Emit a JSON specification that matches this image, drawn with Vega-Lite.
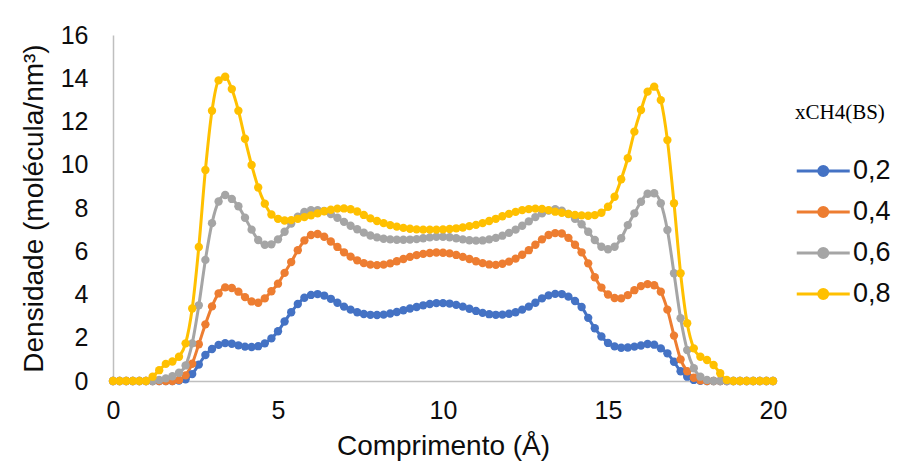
{
"$schema": "https://vega.github.io/schema/vega-lite/v6.json",
"width": 660, "height": 346,
"autosize": "none",
"padding": {"left": 113, "top": 35, "right": 130, "bottom": 80},
"background": "white",
"config": {"view": {"stroke": null}, "font": "Liberation Sans"},
"data": {"values": [
{"x":0,"s":"0,2","y":0},{"x":0.2,"s":"0,2","y":0},{"x":0.4,"s":"0,2","y":0},{"x":0.6,"s":"0,2","y":0},{"x":0.8,"s":"0,2","y":0},{"x":1,"s":"0,2","y":0},{"x":1.2,"s":"0,2","y":0},{"x":1.4,"s":"0,2","y":0},{"x":1.6,"s":"0,2","y":0},{"x":1.8,"s":"0,2","y":0},
{"x":2,"s":"0,2","y":0.02},{"x":2.2,"s":"0,2","y":0.08},{"x":2.4,"s":"0,2","y":0.32},{"x":2.6,"s":"0,2","y":0.76},{"x":2.8,"s":"0,2","y":1.2},{"x":3,"s":"0,2","y":1.48},{"x":3.2,"s":"0,2","y":1.67},{"x":3.4,"s":"0,2","y":1.75},{"x":3.6,"s":"0,2","y":1.72},{"x":3.8,"s":"0,2","y":1.65},
{"x":4,"s":"0,2","y":1.59},{"x":4.2,"s":"0,2","y":1.57},{"x":4.4,"s":"0,2","y":1.61},{"x":4.6,"s":"0,2","y":1.74},{"x":4.8,"s":"0,2","y":1.97},{"x":5,"s":"0,2","y":2.3},{"x":5.2,"s":"0,2","y":2.75},{"x":5.4,"s":"0,2","y":3.18},{"x":5.6,"s":"0,2","y":3.56},{"x":5.8,"s":"0,2","y":3.85},
{"x":6,"s":"0,2","y":3.98},{"x":6.2,"s":"0,2","y":4.02},{"x":6.4,"s":"0,2","y":3.95},{"x":6.6,"s":"0,2","y":3.8},{"x":6.8,"s":"0,2","y":3.62},{"x":7,"s":"0,2","y":3.44},{"x":7.2,"s":"0,2","y":3.3},{"x":7.4,"s":"0,2","y":3.18},{"x":7.6,"s":"0,2","y":3.1},{"x":7.8,"s":"0,2","y":3.06},
{"x":8,"s":"0,2","y":3.05},{"x":8.2,"s":"0,2","y":3.07},{"x":8.4,"s":"0,2","y":3.12},{"x":8.6,"s":"0,2","y":3.19},{"x":8.8,"s":"0,2","y":3.27},{"x":9,"s":"0,2","y":3.35},{"x":9.2,"s":"0,2","y":3.42},{"x":9.4,"s":"0,2","y":3.5},{"x":9.6,"s":"0,2","y":3.56},{"x":9.8,"s":"0,2","y":3.6},
{"x":10,"s":"0,2","y":3.6},{"x":10.2,"s":"0,2","y":3.58},{"x":10.4,"s":"0,2","y":3.52},{"x":10.6,"s":"0,2","y":3.44},{"x":10.8,"s":"0,2","y":3.34},{"x":11,"s":"0,2","y":3.24},{"x":11.2,"s":"0,2","y":3.15},{"x":11.4,"s":"0,2","y":3.09},{"x":11.6,"s":"0,2","y":3.06},{"x":11.8,"s":"0,2","y":3.07},
{"x":12,"s":"0,2","y":3.11},{"x":12.2,"s":"0,2","y":3.18},{"x":12.4,"s":"0,2","y":3.3},{"x":12.6,"s":"0,2","y":3.44},{"x":12.8,"s":"0,2","y":3.62},{"x":13,"s":"0,2","y":3.82},{"x":13.2,"s":"0,2","y":3.96},{"x":13.4,"s":"0,2","y":4.03},{"x":13.6,"s":"0,2","y":4.02},{"x":13.8,"s":"0,2","y":3.9},
{"x":14,"s":"0,2","y":3.7},{"x":14.2,"s":"0,2","y":3.42},{"x":14.4,"s":"0,2","y":2.92},{"x":14.6,"s":"0,2","y":2.44},{"x":14.8,"s":"0,2","y":2.06},{"x":15,"s":"0,2","y":1.76},{"x":15.2,"s":"0,2","y":1.6},{"x":15.4,"s":"0,2","y":1.54},{"x":15.6,"s":"0,2","y":1.55},{"x":15.8,"s":"0,2","y":1.59},
{"x":16,"s":"0,2","y":1.64},{"x":16.2,"s":"0,2","y":1.71},{"x":16.4,"s":"0,2","y":1.68},{"x":16.6,"s":"0,2","y":1.51},{"x":16.8,"s":"0,2","y":1.28},{"x":17,"s":"0,2","y":0.89},{"x":17.2,"s":"0,2","y":0.45},{"x":17.4,"s":"0,2","y":0.2},{"x":17.6,"s":"0,2","y":0.05},{"x":17.8,"s":"0,2","y":0.01},
{"x":18,"s":"0,2","y":0},{"x":18.2,"s":"0,2","y":0},{"x":18.4,"s":"0,2","y":0},{"x":18.6,"s":"0,2","y":0},{"x":18.8,"s":"0,2","y":0},{"x":19,"s":"0,2","y":0},{"x":19.2,"s":"0,2","y":0},{"x":19.4,"s":"0,2","y":0},{"x":19.6,"s":"0,2","y":0},{"x":19.8,"s":"0,2","y":0},{"x":20,"s":"0,2","y":0},

{"x":0,"s":"0,4","y":0},{"x":0.2,"s":"0,4","y":0},{"x":0.4,"s":"0,4","y":0},{"x":0.6,"s":"0,4","y":0},{"x":0.8,"s":"0,4","y":0},{"x":1,"s":"0,4","y":0},{"x":1.2,"s":"0,4","y":0},{"x":1.4,"s":"0,4","y":0},{"x":1.6,"s":"0,4","y":0},{"x":1.8,"s":"0,4","y":0},
{"x":2,"s":"0,4","y":0.05},{"x":2.2,"s":"0,4","y":0.26},{"x":2.4,"s":"0,4","y":0.8},{"x":2.6,"s":"0,4","y":1.7},{"x":2.8,"s":"0,4","y":2.62},{"x":3,"s":"0,4","y":3.45},{"x":3.2,"s":"0,4","y":4.05},{"x":3.4,"s":"0,4","y":4.33},{"x":3.6,"s":"0,4","y":4.3},{"x":3.8,"s":"0,4","y":4.13},
{"x":4,"s":"0,4","y":3.88},{"x":4.2,"s":"0,4","y":3.68},{"x":4.4,"s":"0,4","y":3.62},{"x":4.6,"s":"0,4","y":3.82},{"x":4.8,"s":"0,4","y":4.15},{"x":5,"s":"0,4","y":4.5},{"x":5.2,"s":"0,4","y":5.0},{"x":5.4,"s":"0,4","y":5.5},{"x":5.6,"s":"0,4","y":6.05},{"x":5.8,"s":"0,4","y":6.5},
{"x":6,"s":"0,4","y":6.75},{"x":6.2,"s":"0,4","y":6.8},{"x":6.4,"s":"0,4","y":6.67},{"x":6.6,"s":"0,4","y":6.45},{"x":6.8,"s":"0,4","y":6.2},{"x":7,"s":"0,4","y":5.95},{"x":7.2,"s":"0,4","y":5.75},{"x":7.4,"s":"0,4","y":5.58},{"x":7.6,"s":"0,4","y":5.45},{"x":7.8,"s":"0,4","y":5.38},
{"x":8,"s":"0,4","y":5.36},{"x":8.2,"s":"0,4","y":5.38},{"x":8.4,"s":"0,4","y":5.44},{"x":8.6,"s":"0,4","y":5.54},{"x":8.8,"s":"0,4","y":5.64},{"x":9,"s":"0,4","y":5.74},{"x":9.2,"s":"0,4","y":5.82},{"x":9.4,"s":"0,4","y":5.88},{"x":9.6,"s":"0,4","y":5.92},{"x":9.8,"s":"0,4","y":5.94},
{"x":10,"s":"0,4","y":5.93},{"x":10.2,"s":"0,4","y":5.9},{"x":10.4,"s":"0,4","y":5.83},{"x":10.6,"s":"0,4","y":5.74},{"x":10.8,"s":"0,4","y":5.64},{"x":11,"s":"0,4","y":5.54},{"x":11.2,"s":"0,4","y":5.45},{"x":11.4,"s":"0,4","y":5.39},{"x":11.6,"s":"0,4","y":5.37},{"x":11.8,"s":"0,4","y":5.42},
{"x":12,"s":"0,4","y":5.52},{"x":12.2,"s":"0,4","y":5.66},{"x":12.4,"s":"0,4","y":5.84},{"x":12.6,"s":"0,4","y":6.05},{"x":12.8,"s":"0,4","y":6.3},{"x":13,"s":"0,4","y":6.55},{"x":13.2,"s":"0,4","y":6.75},{"x":13.4,"s":"0,4","y":6.84},{"x":13.6,"s":"0,4","y":6.82},{"x":13.8,"s":"0,4","y":6.62},
{"x":14,"s":"0,4","y":6.3},{"x":14.2,"s":"0,4","y":5.95},{"x":14.4,"s":"0,4","y":5.44},{"x":14.6,"s":"0,4","y":4.8},{"x":14.8,"s":"0,4","y":4.32},{"x":15,"s":"0,4","y":4.0},{"x":15.2,"s":"0,4","y":3.84},{"x":15.4,"s":"0,4","y":3.82},{"x":15.6,"s":"0,4","y":3.97},{"x":15.8,"s":"0,4","y":4.2},
{"x":16,"s":"0,4","y":4.39},{"x":16.2,"s":"0,4","y":4.48},{"x":16.4,"s":"0,4","y":4.43},{"x":16.6,"s":"0,4","y":4.13},{"x":16.8,"s":"0,4","y":3.3},{"x":17,"s":"0,4","y":2.1},{"x":17.2,"s":"0,4","y":1.0},{"x":17.4,"s":"0,4","y":0.45},{"x":17.6,"s":"0,4","y":0.15},{"x":17.8,"s":"0,4","y":0.03},
{"x":18,"s":"0,4","y":0},{"x":18.2,"s":"0,4","y":0},{"x":18.4,"s":"0,4","y":0},{"x":18.6,"s":"0,4","y":0},{"x":18.8,"s":"0,4","y":0},{"x":19,"s":"0,4","y":0},{"x":19.2,"s":"0,4","y":0},{"x":19.4,"s":"0,4","y":0},{"x":19.6,"s":"0,4","y":0},{"x":19.8,"s":"0,4","y":0},{"x":20,"s":"0,4","y":0},

{"x":0,"s":"0,6","y":0},{"x":0.2,"s":"0,6","y":0},{"x":0.4,"s":"0,6","y":0},{"x":0.6,"s":"0,6","y":0},{"x":0.8,"s":"0,6","y":0},{"x":1,"s":"0,6","y":0},{"x":1.2,"s":"0,6","y":0},{"x":1.4,"s":"0,6","y":0.05},{"x":1.6,"s":"0,6","y":0.12},{"x":1.8,"s":"0,6","y":0.22},
{"x":2,"s":"0,6","y":0.38},{"x":2.2,"s":"0,6","y":0.72},{"x":2.4,"s":"0,6","y":1.74},{"x":2.6,"s":"0,6","y":3.5},{"x":2.8,"s":"0,6","y":5.6},{"x":3,"s":"0,6","y":7.3},{"x":3.2,"s":"0,6","y":8.3},{"x":3.4,"s":"0,6","y":8.6},{"x":3.6,"s":"0,6","y":8.42},{"x":3.8,"s":"0,6","y":8.08},
{"x":4,"s":"0,6","y":7.55},{"x":4.2,"s":"0,6","y":7.0},{"x":4.4,"s":"0,6","y":6.52},{"x":4.6,"s":"0,6","y":6.3},{"x":4.8,"s":"0,6","y":6.32},{"x":5,"s":"0,6","y":6.55},{"x":5.2,"s":"0,6","y":6.9},{"x":5.4,"s":"0,6","y":7.28},{"x":5.6,"s":"0,6","y":7.6},{"x":5.8,"s":"0,6","y":7.82},
{"x":6,"s":"0,6","y":7.9},{"x":6.2,"s":"0,6","y":7.9},{"x":6.4,"s":"0,6","y":7.86},{"x":6.6,"s":"0,6","y":7.72},{"x":6.8,"s":"0,6","y":7.55},{"x":7,"s":"0,6","y":7.36},{"x":7.2,"s":"0,6","y":7.18},{"x":7.4,"s":"0,6","y":7.02},{"x":7.6,"s":"0,6","y":6.86},{"x":7.8,"s":"0,6","y":6.73},
{"x":8,"s":"0,6","y":6.64},{"x":8.2,"s":"0,6","y":6.58},{"x":8.4,"s":"0,6","y":6.55},{"x":8.6,"s":"0,6","y":6.53},{"x":8.8,"s":"0,6","y":6.53},{"x":9,"s":"0,6","y":6.54},{"x":9.2,"s":"0,6","y":6.56},{"x":9.4,"s":"0,6","y":6.6},{"x":9.6,"s":"0,6","y":6.64},{"x":9.8,"s":"0,6","y":6.67},
{"x":10,"s":"0,6","y":6.67},{"x":10.2,"s":"0,6","y":6.65},{"x":10.4,"s":"0,6","y":6.6},{"x":10.6,"s":"0,6","y":6.55},{"x":10.8,"s":"0,6","y":6.51},{"x":11,"s":"0,6","y":6.49},{"x":11.2,"s":"0,6","y":6.5},{"x":11.4,"s":"0,6","y":6.55},{"x":11.6,"s":"0,6","y":6.62},{"x":11.8,"s":"0,6","y":6.72},
{"x":12,"s":"0,6","y":6.85},{"x":12.2,"s":"0,6","y":7.0},{"x":12.4,"s":"0,6","y":7.18},{"x":12.6,"s":"0,6","y":7.38},{"x":12.8,"s":"0,6","y":7.58},{"x":13,"s":"0,6","y":7.75},{"x":13.2,"s":"0,6","y":7.88},{"x":13.4,"s":"0,6","y":7.94},{"x":13.6,"s":"0,6","y":7.88},{"x":13.8,"s":"0,6","y":7.72},
{"x":14,"s":"0,6","y":7.5},{"x":14.2,"s":"0,6","y":7.25},{"x":14.4,"s":"0,6","y":6.9},{"x":14.6,"s":"0,6","y":6.52},{"x":14.8,"s":"0,6","y":6.21},{"x":15,"s":"0,6","y":6.09},{"x":15.2,"s":"0,6","y":6.21},{"x":15.4,"s":"0,6","y":6.6},{"x":15.6,"s":"0,6","y":7.21},{"x":15.8,"s":"0,6","y":7.75},
{"x":16,"s":"0,6","y":8.29},{"x":16.2,"s":"0,6","y":8.66},{"x":16.4,"s":"0,6","y":8.68},{"x":16.6,"s":"0,6","y":8.22},{"x":16.8,"s":"0,6","y":6.98},{"x":17,"s":"0,6","y":4.98},{"x":17.2,"s":"0,6","y":2.9},{"x":17.4,"s":"0,6","y":1.43},{"x":17.6,"s":"0,6","y":0.59},{"x":17.8,"s":"0,6","y":0.2},
{"x":18,"s":"0,6","y":0.05},{"x":18.2,"s":"0,6","y":0},{"x":18.4,"s":"0,6","y":0},{"x":18.6,"s":"0,6","y":0},{"x":18.8,"s":"0,6","y":0},{"x":19,"s":"0,6","y":0},{"x":19.2,"s":"0,6","y":0},{"x":19.4,"s":"0,6","y":0},{"x":19.6,"s":"0,6","y":0},{"x":19.8,"s":"0,6","y":0},{"x":20,"s":"0,6","y":0},

{"x":0,"s":"0,8","y":0},{"x":0.2,"s":"0,8","y":0},{"x":0.4,"s":"0,8","y":0},{"x":0.6,"s":"0,8","y":0},{"x":0.8,"s":"0,8","y":0},{"x":1,"s":"0,8","y":0},{"x":1.2,"s":"0,8","y":0.2},{"x":1.4,"s":"0,8","y":0.5},{"x":1.6,"s":"0,8","y":0.79},{"x":1.8,"s":"0,8","y":0.9},
{"x":2,"s":"0,8","y":1.12},{"x":2.2,"s":"0,8","y":1.74},{"x":2.4,"s":"0,8","y":3.35},{"x":2.6,"s":"0,8","y":6.2},{"x":2.8,"s":"0,8","y":9.76},{"x":3,"s":"0,8","y":12.5},{"x":3.2,"s":"0,8","y":13.9},{"x":3.4,"s":"0,8","y":14.07},{"x":3.6,"s":"0,8","y":13.5},{"x":3.8,"s":"0,8","y":12.5},
{"x":4,"s":"0,8","y":11.2},{"x":4.2,"s":"0,8","y":9.99},{"x":4.4,"s":"0,8","y":8.95},{"x":4.6,"s":"0,8","y":8.2},{"x":4.8,"s":"0,8","y":7.7},{"x":5,"s":"0,8","y":7.5},{"x":5.2,"s":"0,8","y":7.42},{"x":5.4,"s":"0,8","y":7.44},{"x":5.6,"s":"0,8","y":7.5},{"x":5.8,"s":"0,8","y":7.58},
{"x":6,"s":"0,8","y":7.66},{"x":6.2,"s":"0,8","y":7.75},{"x":6.4,"s":"0,8","y":7.85},{"x":6.6,"s":"0,8","y":7.92},{"x":6.8,"s":"0,8","y":7.97},{"x":7,"s":"0,8","y":7.98},{"x":7.2,"s":"0,8","y":7.94},{"x":7.4,"s":"0,8","y":7.84},{"x":7.6,"s":"0,8","y":7.68},{"x":7.8,"s":"0,8","y":7.52},
{"x":8,"s":"0,8","y":7.4},{"x":8.2,"s":"0,8","y":7.3},{"x":8.4,"s":"0,8","y":7.21},{"x":8.6,"s":"0,8","y":7.14},{"x":8.8,"s":"0,8","y":7.08},{"x":9,"s":"0,8","y":7.04},{"x":9.2,"s":"0,8","y":7.01},{"x":9.4,"s":"0,8","y":7.0},{"x":9.6,"s":"0,8","y":7.0},{"x":9.8,"s":"0,8","y":7.0},
{"x":10,"s":"0,8","y":7.01},{"x":10.2,"s":"0,8","y":7.03},{"x":10.4,"s":"0,8","y":7.06},{"x":10.6,"s":"0,8","y":7.1},{"x":10.8,"s":"0,8","y":7.16},{"x":11,"s":"0,8","y":7.22},{"x":11.2,"s":"0,8","y":7.3},{"x":11.4,"s":"0,8","y":7.4},{"x":11.6,"s":"0,8","y":7.5},{"x":11.8,"s":"0,8","y":7.62},
{"x":12,"s":"0,8","y":7.73},{"x":12.2,"s":"0,8","y":7.82},{"x":12.4,"s":"0,8","y":7.9},{"x":12.6,"s":"0,8","y":7.95},{"x":12.8,"s":"0,8","y":7.97},{"x":13,"s":"0,8","y":7.96},{"x":13.2,"s":"0,8","y":7.9},{"x":13.4,"s":"0,8","y":7.83},{"x":13.6,"s":"0,8","y":7.78},{"x":13.8,"s":"0,8","y":7.73},
{"x":14,"s":"0,8","y":7.68},{"x":14.2,"s":"0,8","y":7.66},{"x":14.4,"s":"0,8","y":7.64},{"x":14.6,"s":"0,8","y":7.67},{"x":14.8,"s":"0,8","y":7.78},{"x":15,"s":"0,8","y":8.06},{"x":15.2,"s":"0,8","y":8.52},{"x":15.4,"s":"0,8","y":9.33},{"x":15.6,"s":"0,8","y":10.3},{"x":15.8,"s":"0,8","y":11.53},
{"x":16,"s":"0,8","y":12.53},{"x":16.2,"s":"0,8","y":13.38},{"x":16.4,"s":"0,8","y":13.61},{"x":16.6,"s":"0,8","y":12.99},{"x":16.8,"s":"0,8","y":11.14},{"x":17,"s":"0,8","y":8.22},{"x":17.2,"s":"0,8","y":4.98},{"x":17.4,"s":"0,8","y":2.67},{"x":17.6,"s":"0,8","y":1.51},{"x":17.8,"s":"0,8","y":1.12},
{"x":18,"s":"0,8","y":0.97},{"x":18.2,"s":"0,8","y":0.74},{"x":18.4,"s":"0,8","y":0.36},{"x":18.6,"s":"0,8","y":0.05},{"x":18.8,"s":"0,8","y":0},{"x":19,"s":"0,8","y":0},{"x":19.2,"s":"0,8","y":0},{"x":19.4,"s":"0,8","y":0},{"x":19.6,"s":"0,8","y":0},{"x":19.8,"s":"0,8","y":0},{"x":20,"s":"0,8","y":0}
]},
"mark": {"type": "line", "strokeWidth": 3, "interpolate": "monotone", "point": {"filled": true, "size": 70, "opacity": 1}},
"encoding": {
  "x": {"field": "x", "type": "quantitative", "scale": {"domain": [0, 20], "nice": false},
    "axis": {"title": "Comprimento (Å)", "values": [0, 5, 10, 15, 20], "ticks": false, "grid": false,
      "domainColor": "#bfbfbf", "domainWidth": 1.5, "labelFontSize": 25, "labelPadding": 17, "labelFlush": false, "labelOverlap": false,
      "labelColor": "#0d0d0d", "titleFontSize": 28, "titleFontWeight": "normal", "titleColor": "#0d0d0d", "titlePadding": 9}},
  "y": {"field": "y", "type": "quantitative", "scale": {"domain": [0, 16], "nice": false},
    "axis": {"title": "Densidade (molécula/nm³)", "values": [0, 2, 4, 6, 8, 10, 12, 14, 16], "ticks": false, "grid": false,
      "domainColor": "#bfbfbf", "domainWidth": 1.5, "labelFontSize": 25, "labelPadding": 25, "labelOverlap": false,
      "labelColor": "#0d0d0d", "titleFontSize": 28, "titleFontWeight": "normal", "titleColor": "#0d0d0d", "titlePadding": 12}},
  "color": {"field": "s", "type": "nominal",
    "scale": {"domain": ["0,2", "0,4", "0,6", "0,8"], "range": ["#4472C4", "#ED7D31", "#A5A5A5", "#FFC000"]},
    "legend": {"title": "xCH4(BS)", "orient": "none", "legendX": 682, "legendY": 67,
      "titleFont": "Liberation Serif", "titleFontSize": 21, "titleFontWeight": "normal", "titleColor": "#000000", "titlePadding": 33,
      "labelFont": "Liberation Sans", "labelFontSize": 27, "labelColor": "#0d0d0d", "labelOffset": 28,
      "symbolType": "M-1,0H3M0.66,0A0.34,0.34,0,1,0,1.34,0A0.34,0.34,0,1,0,0.66,0Z",
      "symbolSize": 702, "symbolStrokeWidth": 3, "rowPadding": 13,
      "encode": {"symbols": {"update": {"fill": {"scale": "color", "field": "value"}, "opacity": {"value": 1}}}}}}
}
}
